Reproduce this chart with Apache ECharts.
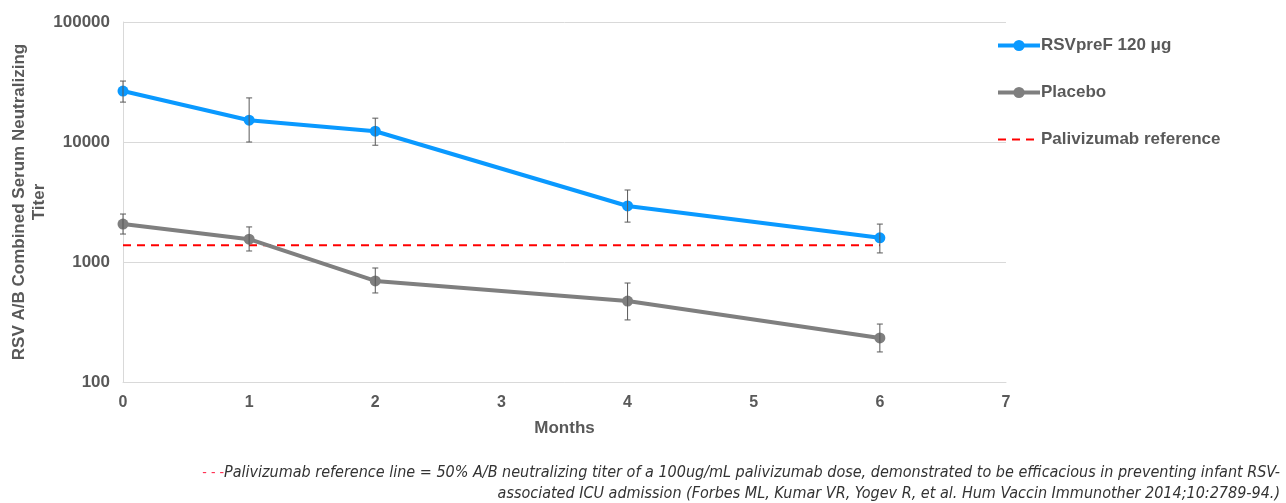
<!DOCTYPE html>
<html>
<head>
<meta charset="utf-8">
<script src="https://cdn.jsdelivr.net/npm/echarts@6/dist/echarts.min.js"></script>
<style>
  html, body { margin: 0; padding: 0; background: #fff; }
  #chart { width: 1286px; height: 503px; }
</style>
</head>
<body>
<div id="chart"></div>
<script>
// months on x axis
const months = [0, 1, 2, 4, 6];

// RSVpreF 120 ug: geometric mean titer and error bar ends
const rsvMean = [26600, 15200, 12300, 2930, 1590];
const rsvLow  = [21500, 10000, 9400, 2150, 1190];
const rsvHigh = [32200, 23300, 15800, 3980, 2070];

// placebo
const placeboMean = [2070, 1550, 695, 473, 233];
const placeboLow  = [1710, 1235, 552, 329, 178];
const placeboHigh = [2510, 1960, 891, 668, 304];

// palivizumab reference line, drawn from month 0 to month 6
const refMonths = [0, 6];
const refValue = 1380;

const yTicks = [100, 1000, 10000, 100000];

const footnote = [
  'Palivizumab reference line = 50% A/B neutralizing titer of a 100ug/mL palivizumab dose, demonstrated to be efficacious in preventing infant RSV-',
  'associated ICU admission (Forbes ML, Kumar VR, Yogev R, et al. Hum Vaccin Immunother 2014;10:2789-94.)'
];

const textGrey = '#595959';
const font = 'Liberation Sans';

let chart = echarts.init(document.getElementById('chart'));

function pairs(xs, ys) {
  return xs.map((x, i) => [x, ys[i]]);
}

function errorData(low, high) {
  return months.map((m, i) => [m, low[i], high[i]]);
}

// error bar: vertical line with small caps
function renderError(params, api) {
  let top = api.coord([api.value(0), api.value(2)]);
  let bot = api.coord([api.value(0), api.value(1)]);
  let cap = 3;
  let style = { stroke: '#595959', lineWidth: 1 };
  return {
    type: 'group',
    children: [
      { type: 'line', shape: { x1: top[0], y1: top[1], x2: bot[0], y2: bot[1] }, style: style },
      { type: 'line', shape: { x1: top[0] - cap, y1: top[1], x2: top[0] + cap, y2: top[1] }, style: style },
      { type: 'line', shape: { x1: bot[0] - cap, y1: bot[1], x2: bot[0] + cap, y2: bot[1] }, style: style }
    ]
  };
}

let noteStyle = {
  fill: '#333333',
  fontFamily: 'DejaVu Sans Condensed',
  fontStyle: 'italic',
  fontSize: 16,
  rich: {
    d: { fill: '#ff3355', fontSize: 14, fontFamily: 'DejaVu Sans Condensed' }
  }
};

let option = {
  animation: false,
  grid: { left: 123, right: 280, top: 22, bottom: 121, containLabel: false, outerBoundsMode: 'none' },
  legend: {
    orient: 'vertical',
    left: 991,
    top: 32,
    itemWidth: 42,
    itemHeight: 14,
    itemGap: 30,
    textStyle: { color: textGrey, fontSize: 17, fontWeight: 'bold', fontFamily: font, padding: [0, 0, 0, -4] },
    data: [
      { name: 'RSVpreF 120 μg', lineStyle: { width: 4 } },
      { name: 'Placebo', lineStyle: { width: 4 } },
      { name: 'Palivizumab reference', itemStyle: { opacity: 0 }, lineStyle: { width: 2, type: [8, 6] } }
    ]
  },
  xAxis: {
    type: 'value',
    min: 0,
    max: 7,
    interval: 1,
    name: 'Months',
    nameLocation: 'middle',
    nameGap: 38,
    nameTextStyle: { color: textGrey, fontSize: 17, fontWeight: 'bold', fontFamily: font },
    axisLine: { lineStyle: { color: '#d9d9d9', width: 1 } },
    axisTick: { show: false },
    axisLabel: { color: textGrey, fontSize: 16, fontWeight: 'bold', fontFamily: font, margin: 13 },
    splitLine: { show: false }
  },
  yAxis: {
    type: 'log',
    logBase: 10,
    min: yTicks[0],
    max: yTicks[yTicks.length - 1],
    name: 'RSV A/B Combined Serum Neutralizing\nTiter',
    nameLocation: 'middle',
    nameGap: 74,
    nameMoveOverlap: false,
    nameTextStyle: { color: textGrey, fontSize: 17, fontWeight: 'bold', fontFamily: font, lineHeight: 20 },
    axisLine: { show: true, lineStyle: { color: '#d9d9d9', width: 1 } },
    axisTick: { show: false },
    axisLabel: { color: textGrey, fontSize: 17, fontWeight: 'bold', fontFamily: font, margin: 13, formatter: v => String(v) },
    splitLine: { lineStyle: { color: '#d9d9d9', width: 1 } }
  },
  series: [
    {
      name: 'RSVpreF 120 μg',
      type: 'line',
      data: pairs(months, rsvMean),
      color: '#0a99ff',
      symbol: 'circle',
      symbolSize: 11,
      lineStyle: { width: 4 },
      z: 3
    },
    {
      name: 'Placebo',
      type: 'line',
      data: pairs(months, placeboMean),
      color: '#7f7f7f',
      symbol: 'circle',
      symbolSize: 11,
      lineStyle: { width: 4 },
      z: 3
    },
    {
      name: 'Palivizumab reference',
      type: 'line',
      data: refMonths.map(m => [m, refValue]),
      color: '#ff0000',
      symbol: 'none',
      lineStyle: { width: 2, type: [8, 6] },
      z: 2
    },
    {
      type: 'custom',
      data: errorData(rsvLow, rsvHigh),
      renderItem: renderError,
      z: 4
    },
    {
      type: 'custom',
      data: errorData(placeboLow, placeboHigh),
      renderItem: renderError,
      z: 4
    }
  ],
  graphic: [
    {
      type: 'text',
      right: 6,
      top: 465,
      style: Object.assign({ text: '{d|- - -}' + footnote[0] }, noteStyle)
    },
    {
      type: 'text',
      right: 6,
      top: 486,
      style: Object.assign({ text: footnote[1] }, noteStyle)
    }
  ]
};

chart.setOption(option);
</script>
</body>
</html>
